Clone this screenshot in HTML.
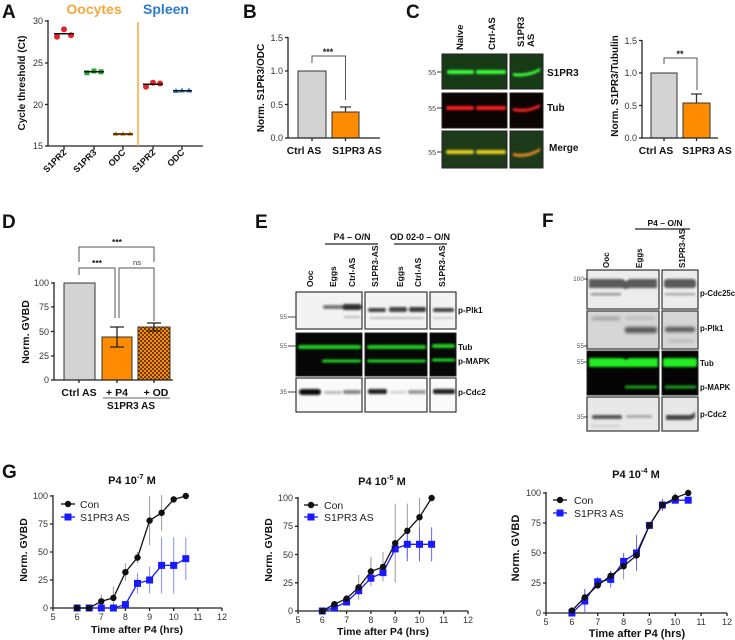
<!DOCTYPE html>
<html><head><meta charset="utf-8"><style>
html,body{margin:0;padding:0;background:#fff;}
svg{display:block;font-family:"Liberation Sans",Arial,sans-serif;}
.t{font-size:9px;fill:#333;}
.b{font-weight:bold;fill:#111;}
.ax{stroke:#222;stroke-width:1.3;fill:none;}
</style></head><body>
<svg width="735" height="640" viewBox="0 0 735 640" xmlns="http://www.w3.org/2000/svg">
<defs>
<filter id="bl" x="-20%" y="-100%" width="140%" height="300%"><feGaussianBlur stdDeviation="1"/></filter>
<filter id="bl2" x="-20%" y="-100%" width="140%" height="300%"><feGaussianBlur stdDeviation="1.6"/></filter>
<pattern id="chk" width="4" height="4" patternUnits="userSpaceOnUse">
<rect width="4" height="4" fill="#ff8c00"/><rect width="2" height="2" fill="#6a3a10"/><rect x="2" y="2" width="2" height="2" fill="#6a3a10"/>
</pattern>
</defs>

<!-- ================= A ================= -->
<text x="2" y="18" class="b" font-size="19">A</text>
<text x="94" y="14" font-size="14" font-weight="bold" fill="#f7a83a" text-anchor="middle">Oocytes</text>
<text x="166" y="14" font-size="14" font-weight="bold" fill="#2a7bd0" text-anchor="middle">Spleen</text>
<path class="ax" d="M48,20 V146 H203"/>
<path class="ax" d="M45,21 H48 M45,63 H48 M45,104.5 H48 M45,146 H48"/>
<text class="t" x="43" y="24" text-anchor="end">30</text>
<text class="t" x="43" y="66" text-anchor="end">25</text>
<text class="t" x="43" y="108" text-anchor="end">20</text>
<text class="t" x="43" y="149" text-anchor="end">15</text>
<path class="ax" d="M64,146 V150 M94,146 V150 M123,146 V150 M153,146 V150 M182,146 V150"/>
<line x1="138" y1="22" x2="138" y2="146" stroke="#f7a83a" stroke-width="1.5"/>
<text class="b" font-size="10" transform="translate(25,83) rotate(-90)" text-anchor="middle">Cycle threshold (Ct)</text>
<g font-size="9" font-weight="bold" fill="#111" text-anchor="end">
<text transform="translate(67,153) rotate(-45)">S1PR2</text>
<text transform="translate(97,153) rotate(-45)">S1PR3</text>
<text transform="translate(126,153) rotate(-45)">ODC</text>
<text transform="translate(156,153) rotate(-45)">S1PR2</text>
<text transform="translate(185,153) rotate(-45)">ODC</text>
</g>
<g fill="#e8232a"><circle cx="57" cy="36.8" r="3"/><circle cx="64" cy="29.4" r="3"/><circle cx="71" cy="35.2" r="3"/>
<circle cx="146" cy="86.8" r="3"/><circle cx="153" cy="82.7" r="3"/><circle cx="160" cy="83.5" r="3"/></g>
<g fill="#1fa52f"><rect x="84.5" y="70.2" width="5" height="5"/><rect x="91.5" y="68.5" width="5" height="5"/><rect x="98.5" y="69.3" width="5" height="5"/></g>
<g fill="#f5a623"><path d="M116,131 l3,5 h-6z M123,131 l3,5 h-6z M130,131 l3,5 h-6z"/></g>
<g fill="#2f7fd8"><path d="M176,88 l3,5 h-6z M182,87.5 l3,5 h-6z M189,87.5 l3,5 h-6z"/></g>
<g stroke="#111" stroke-width="1.5"><line x1="54" y1="33.8" x2="74" y2="33.8"/><line x1="84" y1="71.8" x2="104" y2="71.8"/>
<line x1="113" y1="134" x2="133" y2="134"/><line x1="143" y1="84.3" x2="163" y2="84.3"/><line x1="173" y1="90.7" x2="192" y2="90.7"/></g>

<!-- ================= B ================= -->
<text x="243" y="18" class="b" font-size="19">B</text>
<text class="b" font-size="10" transform="translate(264,88) rotate(-90)" text-anchor="middle">Norm. S1PR3/ODC</text>
<rect x="298" y="71" width="28" height="67" fill="#d3d3d3" stroke="#333" stroke-width="1"/>
<rect x="332" y="112" width="27" height="26" fill="#ff8c00" stroke="#333" stroke-width="1"/>
<path d="M345.5,112 V107 M340,107 H351" stroke="#333" stroke-width="1.3"/>
<path class="ax" d="M288,37 V138 H380"/>
<path class="ax" d="M285,37.5 H288 M285,71 H288 M285,104.5 H288 M285,138 H288 M312,138 V141 M345.5,138 V141"/>
<text class="t" x="283" y="41" text-anchor="end">1.5</text>
<text class="t" x="283" y="74" text-anchor="end">1.0</text>
<text class="t" x="283" y="108" text-anchor="end">0.5</text>
<text class="t" x="283" y="141" text-anchor="end">0.0</text>
<path d="M312,63 V56 H345.5 V100" stroke="#555" stroke-width="1" fill="none"/>
<text x="328" y="55" font-size="9" font-weight="bold" fill="#111" text-anchor="middle">***</text>
<text x="304" y="154" class="b" font-size="10.3" text-anchor="middle">Ctrl AS</text>
<text x="357" y="154" class="b" font-size="10.3" text-anchor="middle">S1PR3 AS</text>

<!-- ================= C ================= -->
<text x="406" y="18" class="b" font-size="19">C</text>
<g font-size="9.5" font-weight="bold" fill="#111">
<text transform="translate(463,50) rotate(-90)">Naive</text>
<text transform="translate(495,50) rotate(-90)">Ctrl-AS</text>
<text transform="translate(524,47) rotate(-90)">S1PR3</text>
<text transform="translate(534,47) rotate(-90)">AS</text>
</g>
<!-- row 1 -->
<rect x="442" y="54" width="65" height="35" fill="#173a17" stroke="#222" stroke-width="1"/>
<rect x="510" y="54" width="33" height="35" fill="#173a17" stroke="#222" stroke-width="1"/>
<g filter="url(#bl)"><rect x="447" y="70" width="27" height="4" rx="2" fill="#3dff3d"/><rect x="476" y="70" width="30" height="4" rx="2" fill="#3dff3d"/>
<path d="M513,73 Q528,75 540,68 L540,71 Q528,78 513,76z" fill="#3dff3d"/></g>
<!-- row 2 -->
<rect x="442" y="93" width="65" height="35" fill="#0c0303" stroke="#222" stroke-width="1"/>
<rect x="510" y="93" width="33" height="35" fill="#0c0303" stroke="#222" stroke-width="1"/>
<g filter="url(#bl)"><rect x="446" y="106" width="28" height="4" rx="2" fill="#ff2020"/><rect x="476" y="106" width="30" height="4" rx="2" fill="#ff2020"/>
<path d="M513,108 Q528,111 540,104 L540,107 Q528,114 513,111z" fill="#ff2020"/></g>
<!-- row 3 -->
<rect x="442" y="131" width="65" height="37" fill="#1d3a1a" stroke="#222" stroke-width="1"/>
<rect x="510" y="131" width="33" height="37" fill="#1d3a1a" stroke="#222" stroke-width="1"/>
<g filter="url(#bl)"><rect x="446" y="150" width="28" height="4" rx="2" fill="#e8d020"/><rect x="476" y="150" width="30" height="4" rx="2" fill="#e8d020"/>
<path d="M513,153 Q528,156 540,148 L540,151 Q528,159 513,156z" fill="#e88a20"/></g>
<g font-size="7" fill="#444" text-anchor="end"><text x="436" y="75">55</text><text x="436" y="111">55</text><text x="436" y="155">55</text></g>
<path d="M437,72 H442 M437,108 H442 M437,152 H442" stroke="#333" stroke-width="1"/>
<g font-size="10" font-weight="bold" fill="#111"><text x="547" y="76">S1PR3</text><text x="547" y="111">Tub</text><text x="549" y="151">Merge</text></g>
<!-- C graph -->
<text class="b" font-size="10" transform="translate(618,86) rotate(-90)" text-anchor="middle">Norm. S1PR3/Tubulin</text>
<rect x="651" y="73" width="26" height="65" fill="#d3d3d3" stroke="#333" stroke-width="1"/>
<rect x="683" y="103" width="27" height="35" fill="#ff8c00" stroke="#333" stroke-width="1"/>
<path d="M696.5,103 V94 M691,94 H702" stroke="#333" stroke-width="1.3"/>
<path class="ax" d="M642,40 V138 H718"/>
<path class="ax" d="M639,40.5 H642 M639,73 H642 M639,105.5 H642 M639,138 H642 M664,138 V141 M696.5,138 V141"/>
<text class="t" x="637" y="44" text-anchor="end">1.5</text>
<text class="t" x="637" y="76" text-anchor="end">1.0</text>
<text class="t" x="637" y="109" text-anchor="end">0.5</text>
<text class="t" x="637" y="141" text-anchor="end">0.0</text>
<path d="M664,64 V58 H697 V90" stroke="#555" stroke-width="1" fill="none"/>
<text x="680" y="57" font-size="9" font-weight="bold" fill="#111" text-anchor="middle">**</text>
<text x="656" y="154" class="b" font-size="10.3" text-anchor="middle">Ctrl AS</text>
<text x="707" y="154" class="b" font-size="10.3" text-anchor="middle">S1PR3 AS</text>

<!-- ================= D ================= -->
<text x="2" y="228" class="b" font-size="19">D</text>
<text class="b" font-size="10.5" transform="translate(29,332) rotate(-90)" text-anchor="middle">Norm. GVBD</text>
<rect x="64" y="283" width="31" height="97" fill="#d3d3d3" stroke="#333" stroke-width="1"/>
<rect x="102" y="337" width="30" height="43" fill="#ff8c00" stroke="#333" stroke-width="1"/>
<rect x="138" y="327" width="32" height="53" fill="url(#chk)" stroke="#333" stroke-width="1"/>
<path d="M117,327 V347 M110,327 H124 M110,347 H124" stroke="#222" stroke-width="1.3"/>
<path d="M154,323 V331 M147,323 H161 M147,331 H161" stroke="#222" stroke-width="1.3"/>
<path class="ax" d="M54,282 V380 H173"/>
<path class="ax" d="M51,283 H54 M51,307 H54 M51,331.5 H54 M51,356 H54 M51,380 H54 M79,380 V383 M117,380 V383 M154,380 V383"/>
<text class="t" x="49" y="286" text-anchor="end">100</text>
<text class="t" x="49" y="310" text-anchor="end">75</text>
<text class="t" x="49" y="335" text-anchor="end">50</text>
<text class="t" x="49" y="359" text-anchor="end">25</text>
<text class="t" x="49" y="383" text-anchor="end">0</text>
<g stroke="#555" stroke-width="1" fill="none">
<path d="M79,262 V247 H154 V262"/>
<path d="M79,275 V268 H115 V318"/>
<path d="M119,318 V268 H154 V321"/>
</g>
<text x="117" y="245" font-size="8.5" font-weight="bold" fill="#111" text-anchor="middle">***</text>
<text x="97" y="266" font-size="8.5" font-weight="bold" fill="#111" text-anchor="middle">***</text>
<text x="137" y="265" font-size="7.5" fill="#333" text-anchor="middle">ns</text>
<text x="79" y="396" class="b" font-size="10.5" text-anchor="middle">Ctrl AS</text>
<text x="117" y="396" class="b" font-size="10.5" text-anchor="middle">+ P4</text>
<text x="156" y="396" class="b" font-size="10.5" text-anchor="middle">+ OD</text>
<line x1="103" y1="398" x2="170" y2="398" stroke="#999" stroke-width="1.5"/>
<text x="131" y="409" class="b" font-size="10" text-anchor="middle">S1PR3 AS</text>

<!-- ================= E ================= -->
<text x="255" y="228" class="b" font-size="19">E</text>
<text x="352" y="240" class="b" font-size="9" text-anchor="middle">P4 – O/N</text>
<line x1="325" y1="244" x2="378" y2="244" stroke="#222" stroke-width="1.2"/>
<text x="420" y="240" class="b" font-size="9" text-anchor="middle">OD 02-0 – O/N</text>
<line x1="394" y1="244" x2="447" y2="244" stroke="#222" stroke-width="1.2"/>
<g font-size="8.5" font-weight="bold" fill="#111">
<text transform="translate(313,287) rotate(-90)">Ooc</text>
<text transform="translate(336,287) rotate(-90)">Eggs</text>
<text transform="translate(355,287) rotate(-90)">Ctrl-AS</text>
<text transform="translate(378,287) rotate(-90)">S1PR3-AS</text>
<text transform="translate(403,287) rotate(-90)">Eggs</text>
<text transform="translate(421,287) rotate(-90)">Ctrl-AS</text>
<text transform="translate(445,287) rotate(-90)">S1PR3-AS</text>
</g>
<!-- row1 -->
<g fill="#f3f3f3" stroke="#333" stroke-width="1.2">
<rect x="296" y="292" width="66" height="37"/><rect x="365" y="292" width="62" height="37"/><rect x="430" y="292" width="26" height="37"/></g>
<g filter="url(#bl)">
<rect x="323" y="305" width="20" height="4" rx="2" fill="#777"/>
<rect x="342" y="304" width="20" height="6" rx="3" fill="#333"/>
<rect x="344" y="316" width="16" height="2" fill="#bbb"/>
<rect x="368" y="308" width="18" height="4" rx="2" fill="#444"/>
<rect x="389" y="307" width="18" height="5" rx="2" fill="#444"/>
<rect x="409" y="307" width="17" height="5" rx="2" fill="#3a3a3a"/>
<rect x="370" y="317" width="54" height="2" fill="#bbb"/>
<rect x="433" y="308" width="21" height="4" rx="2" fill="#444"/>
<rect x="433" y="317" width="20" height="2" fill="#ccc"/>
</g>
<!-- row2 -->
<g fill="#070707" stroke="#222" stroke-width="1">
<rect x="296" y="333" width="66" height="43"/><rect x="365" y="333" width="62" height="43"/><rect x="430" y="333" width="26" height="43"/></g>
<g filter="url(#bl)" fill="#22d022">
<rect x="298" y="345" width="63" height="4" rx="2"/><rect x="367" y="345" width="59" height="4" rx="2"/><rect x="432" y="344" width="23" height="4" rx="2"/>
<rect x="322" y="359.5" width="39" height="3" rx="1.5"/><rect x="367" y="359.5" width="59" height="3" rx="1.5"/><rect x="432" y="358.5" width="23" height="3" rx="1.5"/>
</g>
<!-- row3 -->
<g fill="#fafafa" stroke="#333" stroke-width="1.2">
<rect x="296" y="378" width="66" height="34"/><rect x="365" y="378" width="62" height="34"/><rect x="430" y="378" width="26" height="34"/></g>
<g filter="url(#bl)">
<rect x="299" y="389" width="22" height="6" rx="3" fill="#111"/>
<rect x="324" y="391" width="18" height="3" rx="1.5" fill="#bbb"/>
<rect x="343" y="390" width="18" height="4" rx="2" fill="#888"/>
<rect x="368" y="389" width="19" height="5" rx="2" fill="#222"/>
<rect x="390" y="391" width="16" height="2.5" rx="1" fill="#ccc"/>
<rect x="408" y="390" width="18" height="4" rx="2" fill="#999"/>
<rect x="433" y="389" width="22" height="5" rx="2" fill="#222"/>
</g>
<g font-size="6.5" fill="#555" text-anchor="end"><text x="287" y="319">55</text><text x="287" y="348">55</text><text x="287" y="394">35</text></g>
<path d="M288,317 H296 M288,346 H296 M288,392 H296" stroke="#444" stroke-width="1"/>
<g font-size="8.2" font-weight="bold" fill="#111"><text x="458" y="313">p-Plk1</text><text x="458" y="350">Tub</text><text x="458" y="364">p-MAPK</text><text x="458" y="395">p-Cdc2</text></g>

<!-- ================= F ================= -->
<text x="542" y="227" class="b" font-size="19">F</text>
<text x="665" y="226" class="b" font-size="8.5" text-anchor="middle">P4 – O/N</text>
<line x1="635" y1="229" x2="690" y2="229" stroke="#222" stroke-width="1.2"/>
<g font-size="8" font-weight="bold" fill="#111">
<text transform="translate(609,268) rotate(-90)">Ooc</text>
<text transform="translate(642,268) rotate(-90)">Eggs</text>
<text transform="translate(685,268) rotate(-90)">S1PR3-AS</text>
</g>
<!-- row1 -->
<g fill="#ececec" stroke="#333" stroke-width="1.2"><rect x="587" y="270" width="72" height="39"/><rect x="662" y="270" width="36" height="39"/></g>
<g filter="url(#bl)">
<path d="M589,279 H623 Q626,283 629,279 H657 V288 H629 Q626,290 623,288 H589z" fill="#5a5a5a"/>
<rect x="664" y="279" width="32" height="9" rx="3" fill="#5a5a5a"/>
<rect x="591" y="293" width="30" height="2.5" fill="#999"/>
<rect x="665" y="293" width="30" height="2.5" fill="#aaa"/>
</g>
<!-- row2 -->
<g fill="#d6d6d6" stroke="#333" stroke-width="1.2"><rect x="587" y="311" width="72" height="38"/><rect x="662" y="311" width="36" height="38"/></g>
<g filter="url(#bl2)">
<rect x="592" y="317" width="28" height="3" fill="#999"/>
<rect x="626" y="317" width="28" height="2" fill="#aaa"/>
<rect x="625" y="327" width="32" height="6" rx="2" fill="#555"/>
<rect x="665" y="327" width="30" height="5" rx="2" fill="#555"/>
<rect x="668" y="340" width="26" height="2" fill="#aaa"/>
</g>
<!-- row3 -->
<g fill="#050505" stroke="#222" stroke-width="1"><rect x="587" y="351" width="72" height="44"/><rect x="662" y="351" width="36" height="44"/></g>
<g filter="url(#bl)" fill="#22ee22">
<path d="M589,358 H623 Q626,361 629,358 H658 V367 H589z"/>
<rect x="663" y="358" width="34" height="9" rx="2"/>
<rect x="625" y="385.5" width="32" height="3" fill="#1ea01e"/>
<rect x="665" y="385.5" width="31" height="3" fill="#1ea01e"/>
</g>
<!-- row4 -->
<g fill="#e8e8e8" stroke="#333" stroke-width="1.2"><rect x="587" y="397" width="72" height="34"/><rect x="662" y="397" width="36" height="34"/></g>
<g filter="url(#bl)">
<rect x="592" y="415" width="30" height="4" rx="2" fill="#555"/>
<rect x="626" y="415" width="26" height="3" rx="1.5" fill="#aaa"/>
<path d="M666,415 H690 Q694,414 695,411 V417 Q694,419 690,420 H666z" fill="#444"/>
<rect x="592" y="425" width="28" height="2" fill="#ccc"/>
</g>
<g font-size="6.5" fill="#555" text-anchor="end"><text x="584" y="281">100</text><text x="584" y="348">55</text><text x="584" y="364">55</text><text x="584" y="419">35</text></g>
<path d="M584,279 H588 M584,346 H588 M584,362 H588 M584,417 H588" stroke="#444" stroke-width="1"/>
<g font-size="7.8" font-weight="bold" fill="#111"><text x="700" y="296">p-Cdc25c</text><text x="700" y="331">p-Plk1</text><text x="700" y="366">Tub</text><text x="700" y="390">p-MAPK</text><text x="700" y="417">p-Cdc2</text></g>

<!-- ================= G ================= -->
<text x="2" y="478" class="b" font-size="19">G</text>

<!-- Graph 1 -->
<text x="132" y="484" class="b" font-size="11" text-anchor="middle">P4 10<tspan font-size="7.5" dy="-5">-7</tspan><tspan dy="5"> M</tspan></text>
<path class="ax" d="M53,495 V608 H222"/>
<path class="ax" d="M50,496 H53 M50,524 H53 M50,552 H53 M50,580 H53 M50,608 H53"/>
<path class="ax" d="M53,608 v3 M77.1,608 v3 M101.3,608 v3 M125.4,608 v3 M149.6,608 v3 M173.7,608 v3 M197.9,608 v3 M222,608 v3"/>
<g class="t"><text x="48" y="499" text-anchor="end">100</text><text x="48" y="527" text-anchor="end">75</text><text x="48" y="555" text-anchor="end">50</text><text x="48" y="583" text-anchor="end">25</text><text x="48" y="611" text-anchor="end">0</text></g>
<g class="t" text-anchor="middle"><text x="53" y="620">5</text><text x="77.1" y="620">6</text><text x="101.3" y="620">7</text><text x="125.4" y="620">8</text><text x="149.6" y="620">9</text><text x="173.7" y="620">10</text><text x="197.9" y="620">11</text><text x="222" y="620">12</text></g>
<text class="b" font-size="10.5" transform="translate(27,550) rotate(-90)" text-anchor="middle">Norm. GVBD</text>
<text x="137" y="633" class="b" font-size="10.5" text-anchor="middle">Time after P4 (hrs)</text>
<g stroke="#999" stroke-width="1"><path d="M101.3,608 V594.6 M113.4,608.9 V586.5 M125.4,581.2 V563.2 M137.5,563.2 V552 M149.6,545.3 V496 M161.6,530.7 V494.9 M173.7,502.8 V496"/></g>
<g stroke="#8888ff" stroke-width="1"><path d="M137.5,593.5 V573.3 M149.6,593.4 V566.6 M161.6,593.4 V537.4 M173.7,593.4 V537.4 M185.8,580 V537.4"/></g>
<polyline points="77.1,608 89.2,608 101.3,608 113.4,608 125.4,604.6 137.5,583.4 149.6,580 161.6,565.4 173.7,565.4 185.8,558.7" fill="none" stroke="#1a1aff" stroke-width="1.3"/>
<g fill="#1a1aff"><rect x="73.6" y="604.5" width="7" height="7"/><rect x="85.7" y="604.5" width="7" height="7"/><rect x="97.8" y="604.5" width="7" height="7"/><rect x="109.9" y="604.5" width="7" height="7"/><rect x="121.9" y="601.1" width="7" height="7"/><rect x="134" y="579.9" width="7" height="7"/><rect x="146.1" y="576.5" width="7" height="7"/><rect x="158.1" y="561.9" width="7" height="7"/><rect x="170.2" y="561.9" width="7" height="7"/><rect x="182.3" y="555.2" width="7" height="7"/></g>
<polyline points="77.1,608 89.2,608 101.3,601.3 113.4,597.9 125.4,572.2 137.5,557.6 149.6,520.6 161.6,512.8 173.7,499.4 185.8,496" fill="none" stroke="#111" stroke-width="1.3"/>
<g fill="#111"><circle cx="77.1" cy="608" r="3.2"/><circle cx="89.2" cy="608" r="3.2"/><circle cx="101.3" cy="601.3" r="3.2"/><circle cx="113.4" cy="597.9" r="3.2"/><circle cx="125.4" cy="572.2" r="3.2"/><circle cx="137.5" cy="557.6" r="3.2"/><circle cx="149.6" cy="520.6" r="3.2"/><circle cx="161.6" cy="512.8" r="3.2"/><circle cx="173.7" cy="499.4" r="3.2"/><circle cx="185.8" cy="496" r="3.2"/></g>
<line x1="61" y1="504" x2="75" y2="504" stroke="#111" stroke-width="1.3"/><circle cx="68" cy="504" r="3.2" fill="#111"/>
<text x="80" y="508" font-size="10.5" fill="#222">Con</text>
<line x1="61" y1="517" x2="75" y2="517" stroke="#1a1aff" stroke-width="1.3"/><rect x="64.5" y="513.5" width="7" height="7" fill="#1a1aff"/>
<text x="80" y="521" font-size="10.5" fill="#222">S1PR3 AS</text>

<!-- Graph 2 -->
<text x="382" y="485" class="b" font-size="11" text-anchor="middle">P4 10<tspan font-size="7.5" dy="-5">-5</tspan><tspan dy="5"> M</tspan></text>
<path class="ax" d="M298,497 V611 H468"/>
<path class="ax" d="M295,498 H298 M295,526.3 H298 M295,554.5 H298 M295,582.8 H298 M295,611 H298"/>
<path class="ax" d="M298,611 v3 M322.3,611 v3 M346.6,611 v3 M370.9,611 v3 M395.2,611 v3 M419.5,611 v3 M443.7,611 v3 M468,611 v3"/>
<g class="t"><text x="293" y="501" text-anchor="end">100</text><text x="293" y="529" text-anchor="end">75</text><text x="293" y="558" text-anchor="end">50</text><text x="293" y="586" text-anchor="end">25</text><text x="293" y="614" text-anchor="end">0</text></g>
<g class="t" text-anchor="middle"><text x="298" y="623">5</text><text x="322.3" y="623">6</text><text x="346.6" y="623">7</text><text x="370.9" y="623">8</text><text x="395.2" y="623">9</text><text x="419.5" y="623">10</text><text x="443.7" y="623">11</text><text x="468" y="623">12</text></g>
<text class="b" font-size="10.5" transform="translate(272,550) rotate(-90)" text-anchor="middle">Norm. GVBD</text>
<text x="383" y="635" class="b" font-size="10.5" text-anchor="middle">Time after P4 (hrs)</text>
<g stroke="#999" stroke-width="1"><path d="M358.7,599.7 V574.9 M370.9,586.2 V556.8 M383,581.4 V552.2 M395.2,582.8 V503.6 M407.3,557.9 V503.6 M419.5,536.4 V498"/></g>
<g stroke="#6666ff" stroke-width="1"><path d="M407.3,561.2 V527.3 M419.5,561.2 V527.3 M431.6,561.2 V527.3"/></g>
<polyline points="322.3,611 334.4,607.6 346.6,602 358.7,590.7 370.9,578.2 383,572.6 395.2,548.9 407.3,544.3 419.5,544.3 431.6,544.3" fill="none" stroke="#1a1aff" stroke-width="1.3"/>
<g fill="#1a1aff"><rect x="318.8" y="607.5" width="7" height="7"/><rect x="330.9" y="604.1" width="7" height="7"/><rect x="343.1" y="598.5" width="7" height="7"/><rect x="355.2" y="587.2" width="7" height="7"/><rect x="367.4" y="574.7" width="7" height="7"/><rect x="379.5" y="569.1" width="7" height="7"/><rect x="391.7" y="545.4" width="7" height="7"/><rect x="403.8" y="540.8" width="7" height="7"/><rect x="416" y="540.8" width="7" height="7"/><rect x="428.1" y="540.8" width="7" height="7"/></g>
<polyline points="322.3,611 334.4,604.2 346.6,598.6 358.7,587.3 370.9,571.5 383,566.9 395.2,543.2 407.3,530.8 419.5,517.2 431.6,498" fill="none" stroke="#111" stroke-width="1.3"/>
<g fill="#111"><circle cx="322.3" cy="611" r="3.2"/><circle cx="334.4" cy="604.2" r="3.2"/><circle cx="346.6" cy="598.6" r="3.2"/><circle cx="358.7" cy="587.3" r="3.2"/><circle cx="370.9" cy="571.5" r="3.2"/><circle cx="383" cy="566.9" r="3.2"/><circle cx="395.2" cy="543.2" r="3.2"/><circle cx="407.3" cy="530.8" r="3.2"/><circle cx="419.5" cy="517.2" r="3.2"/><circle cx="431.6" cy="498" r="3.2"/></g>
<line x1="304" y1="505" x2="318" y2="505" stroke="#111" stroke-width="1.3"/><circle cx="311" cy="505" r="3.2" fill="#111"/>
<text x="324" y="509" font-size="10.5" fill="#222">Con</text>
<line x1="304" y1="517" x2="318" y2="517" stroke="#1a1aff" stroke-width="1.3"/><rect x="307.5" y="513.5" width="7" height="7" fill="#1a1aff"/>
<text x="324" y="521" font-size="10.5" fill="#222">S1PR3 AS</text>

<!-- Graph 3 -->
<text x="636" y="478" class="b" font-size="11" text-anchor="middle">P4 10<tspan font-size="7.5" dy="-5">-4</tspan><tspan dy="5"> M</tspan></text>
<path class="ax" d="M546,492 V613 H727"/>
<path class="ax" d="M543,493 H546 M543,523 H546 M543,553 H546 M543,583 H546 M543,613 H546"/>
<path class="ax" d="M546,613 v3 M571.9,613 v3 M597.7,613 v3 M623.6,613 v3 M649.4,613 v3 M675.3,613 v3 M701.1,613 v3 M727,613 v3"/>
<g class="t"><text x="541" y="496" text-anchor="end">100</text><text x="541" y="526" text-anchor="end">75</text><text x="541" y="556" text-anchor="end">50</text><text x="541" y="586" text-anchor="end">25</text><text x="541" y="616" text-anchor="end">0</text></g>
<g class="t" text-anchor="middle"><text x="546" y="625">5</text><text x="571.9" y="625">6</text><text x="597.7" y="625">7</text><text x="623.6" y="625">8</text><text x="649.4" y="625">9</text><text x="675.3" y="625">10</text><text x="701.1" y="625">11</text><text x="727" y="625">12</text></g>
<text class="b" font-size="11" transform="translate(519,548) rotate(-90)" text-anchor="middle">Norm. GVBD</text>
<text x="637" y="637" class="b" font-size="11" text-anchor="middle">Time after P4 (hrs)</text>
<g stroke="#999" stroke-width="1"><path d="M584.8,605.8 V589 M610.7,580.6 V571 M623.6,579.4 V553 M636.5,571 V540 M662.4,511 V499 M675.3,502.6 V493"/></g>
<g stroke="#6666ff" stroke-width="1"><path d="M584.8,613 V589 M597.7,586.6 V577 M610.7,587.8 V571 M623.6,569.8 V553 M636.5,571 V535 M662.4,511 V499"/></g>
<polyline points="571.9,613 584.8,601 597.7,581.8 610.7,579.4 623.6,561.4 636.5,553 649.4,525.4 662.4,505 675.3,500.2 688.2,500.2" fill="none" stroke="#1a1aff" stroke-width="1.3"/>
<g fill="#1a1aff"><rect x="568.4" y="609.5" width="7" height="7"/><rect x="581.3" y="597.5" width="7" height="7"/><rect x="594.2" y="578.3" width="7" height="7"/><rect x="607.2" y="575.9" width="7" height="7"/><rect x="620.1" y="557.9" width="7" height="7"/><rect x="633" y="549.5" width="7" height="7"/><rect x="645.9" y="521.9" width="7" height="7"/><rect x="658.9" y="501.5" width="7" height="7"/><rect x="671.8" y="496.7" width="7" height="7"/><rect x="684.7" y="496.7" width="7" height="7"/></g>
<polyline points="571.9,610.6 584.8,597.4 597.7,585.4 610.7,575.8 623.6,566.2 636.5,555.4 649.4,525.4 662.4,505 675.3,497.8 688.2,493" fill="none" stroke="#111" stroke-width="1.3"/>
<g fill="#111"><circle cx="571.9" cy="610.6" r="3.2"/><circle cx="584.8" cy="597.4" r="3.2"/><circle cx="597.7" cy="585.4" r="3.2"/><circle cx="610.7" cy="575.8" r="3.2"/><circle cx="623.6" cy="566.2" r="3.2"/><circle cx="636.5" cy="555.4" r="3.2"/><circle cx="649.4" cy="525.4" r="3.2"/><circle cx="662.4" cy="505" r="3.2"/><circle cx="675.3" cy="497.8" r="3.2"/><circle cx="688.2" cy="493" r="3.2"/></g>
<line x1="553" y1="500" x2="567" y2="500" stroke="#111" stroke-width="1.3"/><circle cx="560" cy="500" r="3.2" fill="#111"/>
<text x="574" y="504" font-size="10.5" fill="#222">Con</text>
<line x1="553" y1="513" x2="567" y2="513" stroke="#1a1aff" stroke-width="1.3"/><rect x="556.5" y="509.5" width="7" height="7" fill="#1a1aff"/>
<text x="574" y="517" font-size="10.5" fill="#222">S1PR3 AS</text>
</svg>
</body></html>
